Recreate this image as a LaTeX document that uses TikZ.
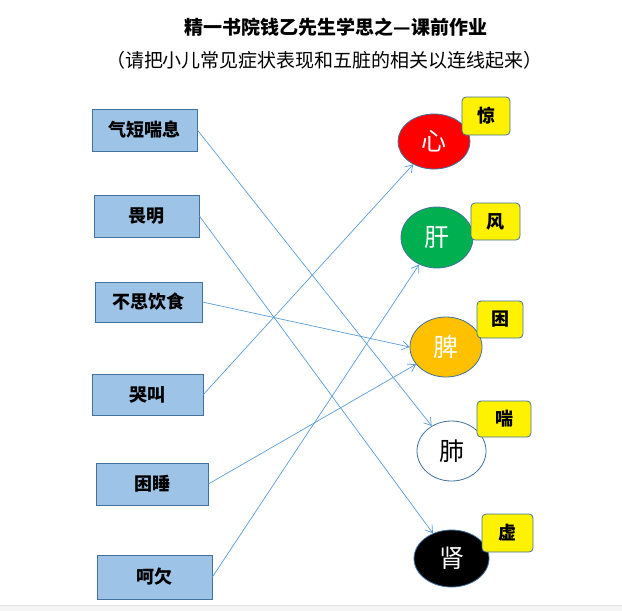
\documentclass[tikz,border=0pt]{standalone}
\usepackage{fontspec}
\setmainfont{Noto Sans CJK SC}
\usepackage{xcolor}
\usepackage{tikz}
\usetikzlibrary{arrows.meta, positioning, shapes.geometric}

\definecolor{linkblue}{HTML}{5B9BD5}
\definecolor{boxblue}{HTML}{9DC3E6}
\definecolor{edgeblue}{HTML}{41719C}
\definecolor{organgreen}{HTML}{00B050}
\definecolor{organorange}{HTML}{FFC000}

\begin{document}
\begin{tikzpicture}[x=1pt, y=-1pt,
  symptom/.style={draw=edgeblue, fill=boxblue, line width=0.8pt, inner sep=0pt,
    font=\fontsize{18}{20}\selectfont\bfseries},
  organ/.style={ellipse, draw=edgeblue, line width=0.8pt, inner sep=0pt,
    minimum width=72pt, minimum height=58pt, font=\fontsize{25}{27}\selectfont},
  tag/.style={draw=edgeblue, fill=yellow, rounded corners=4pt, line width=0.8pt, inner sep=0pt,
    font=\fontsize{18}{20}\selectfont\bfseries},
  link/.style={draw=linkblue, line width=0.7pt, -{Straight Barb[length=7pt, width=9pt]}}
]
  \useasboundingbox (0,0) rectangle (622,611);
  \fill[gray!8] (0,605) rectangle (622,611);
  \draw[gray!25] (0,605) -- (622,605);

  % Title
  \node[font=\fontsize{19}{21}\selectfont\bfseries] (title) at (336,27) {精一书院钱乙先生学思之—课前作业};
  \node[font=\fontsize{19}{21}\selectfont] (subtitle) at (324.5,60) {（请把小儿常见症状表现和五脏的相关以连线起来）};

  % Symptoms
  \node[symptom, minimum width=105pt, minimum height=42pt] (qiduan) at (144.5,130) {气短喘息};
  \node[symptom, minimum width=105pt, minimum height=42pt] (weiming) at (146.5,216) {畏明};
  \node[symptom, minimum width=107pt, minimum height=40pt] (busi) at (148.5,302) {不思饮食};
  \node[symptom, minimum width=111pt, minimum height=41pt] (kujiao) at (147.5,394.5) {哭叫};
  \node[symptom, minimum width=112pt, minimum height=42pt] (kunshui) at (152,484) {困睡};
  \node[symptom, minimum width=115pt, minimum height=44pt] (heqian) at (154.5,577) {呵欠};

  % Organs
  \node[organ, fill=red, text=white, minimum height=55pt] (xin) at (434,141.5) {心};
  \node[organ, fill=organgreen, text=white, minimum height=61pt] (gan) at (437,237.5) {肝};
  \node[organ, fill=organorange, text=white, minimum height=60pt] (pi) at (446,347) {脾};
  \node[organ, fill=white, minimum width=69pt, minimum height=60pt] (fei) at (451.5,451) {肺};
  \node[organ, fill=black, text=white, minimum width=75pt, minimum height=57pt] (shen) at (451.5,558.5) {肾};

  % Tags
  \node[tag, minimum width=48pt, minimum height=38pt] (jing) at (486,116) {惊};
  \node[tag, minimum width=49pt, minimum height=37pt] (feng) at (495.5,221.5) {风};
  \node[tag, minimum width=46pt, minimum height=37pt] (kun) at (500,319.5) {困};
  \node[tag, minimum width=54pt, minimum height=36pt] (chuan) at (504,419) {喘};
  \node[tag, minimum width=51pt, minimum height=38pt] (xu) at (507.5,533) {虚};

  % Links
  \draw[link] (qiduan.east) -- (fei);
  \draw[link] (weiming.east) -- (shen);
  \draw[link] (busi.east) -- (pi.west);
  \draw[link] (kujiao.east) -- (xin);
  \draw[link] (kunshui.east) -- (pi);
  \draw[link] (heqian.east) -- (gan);
\end{tikzpicture}
\end{document}
